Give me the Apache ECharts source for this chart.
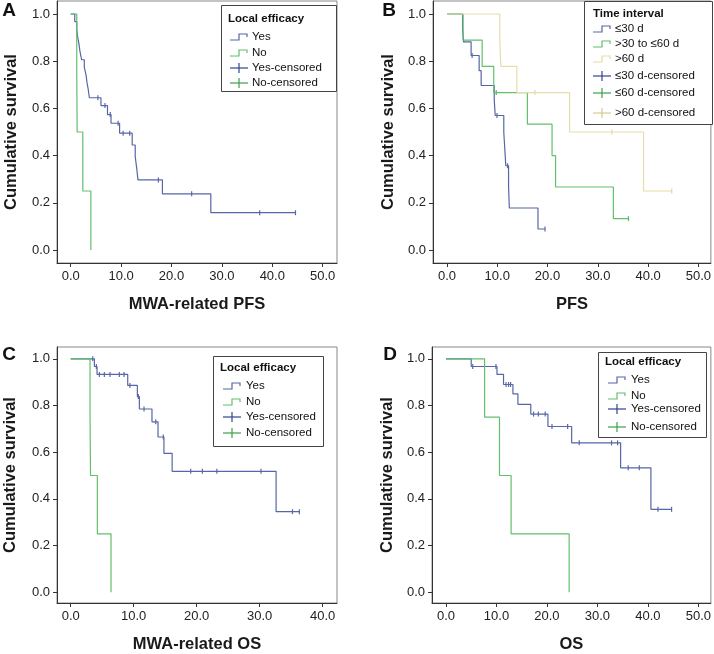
<!DOCTYPE html>
<html><head><meta charset="utf-8">
<script src="https://cdn.jsdelivr.net/npm/echarts@6/dist/echarts.min.js"></script>
<style>html,body{margin:0;padding:0;background:#fff}#c{width:714px;height:654px}</style>
</head><body><div id="c"></div>
<script>
// ---------- tick labels ----------
const xTicks50 = [0, 10, 20, 30, 40, 50];
const xTicks40 = [0, 10, 20, 30, 40];
const yTicks = [0, 0.2, 0.4, 0.6, 0.8, 1.0];

// ---------- texts ----------
const panelLetters = ['A', 'B', 'C', 'D'];
const xTitles = ['MWA-related PFS', 'PFS', 'MWA-related OS', 'OS'];
const yTitle = 'Cumulative survival';
const legendTitleLocal = 'Local efficacy';
const legendTitleTime = 'Time interval';
const legendLocal = ['Yes', 'No', 'Yes-censored', 'No-censored'];
const legendTime = ['≤30 d', '>30 to ≤60 d', '>60 d', '≤30 d-censored', '≤60 d-censored', '>60 d-censored'];

// ---------- Panel A: MWA-related PFS ----------
const aYes = [[0,1],[0.8,0.968],[1.2,0.935],[1.38,0.903],[1.65,0.871],[1.85,0.839],[2.18,0.806],[2.7,0.774],[3.04,0.742],[3.23,0.710],[3.5,0.677],[3.7,0.645],[6.0,0.612],[7.3,0.574],[8.0,0.537],[9.7,0.495],[12.2,0.445],[12.8,0.396],[13.1,0.346],[13.35,0.297],[18.2,0.238],[27.8,0.158],[44.7,0.158]];
const aYesCens = [[5.4,0.645],[6.8,0.612],[7.85,0.574],[9.4,0.537],[10.4,0.495],[11.7,0.495],[17.4,0.297],[24.0,0.238],[37.5,0.158],[44.6,0.158]];
const aNo = [[0,1],[1.2,0.75],[1.28,0.5],[2.4,0.25],[4.0,0]];

// ---------- Panel B: PFS by time interval ----------
const b30 = [[0,1],[3.1,0.941],[3.3,0.882],[4.8,0.824],[6.4,0.760],[6.8,0.697],[9.4,0.634],[9.6,0.570],[11.3,0.499],[11.5,0.428],[11.7,0.357],[12.25,0.268],[12.4,0.178],[18.1,0.089],[19.5,0.089]];
const b30Cens = [[5.0,0.824],[9.95,0.570],[12.05,0.357],[19.5,0.089]];
const b60 = [[0,1],[3.2,0.889],[7.0,0.778],[9.3,0.667],[16.0,0.533],[20.9,0.40],[21.6,0.267],[33.1,0.133],[36.1,0.133]];
const b60Cens = [[9.8,0.667],[36.1,0.133]];
const bOver60 = [[0,1],[10.5,0.889],[10.7,0.778],[13.9,0.667],[24.4,0.5],[39.1,0.25],[44.7,0.25]];
const bOver60Cens = [[17.5,0.667],[32.8,0.5],[44.7,0.25]];

// ---------- Panel C: MWA-related OS ----------
const cYes = [[0,1],[3.76,0.967],[4.18,0.933],[9.05,0.886],[10.58,0.838],[10.9,0.785],[12.9,0.73],[13.86,0.665],[14.8,0.595],[16.1,0.518],[32.6,0.345],[36.4,0.345]];
const cYesCens = [[3.5,1],[4.07,0.967],[4.55,0.933],[5.34,0.933],[6.24,0.933],[7.72,0.933],[8.47,0.933],[9.4,0.886],[10.74,0.838],[11.64,0.785],[13.5,0.73],[14.7,0.665],[19.05,0.518],[20.9,0.518],[23.2,0.518],[30.2,0.518],[35.2,0.345],[36.3,0.345]];
const cNo = [[0,1],[3.07,0.75],[3.15,0.5],[4.23,0.25],[6.4,0]];

// ---------- Panel D: OS ----------
const dYes = [[0,1],[5.0,0.967],[10.1,0.933],[11.4,0.89],[13.26,0.85],[14.25,0.805],[16.8,0.763],[20.2,0.71],[24.9,0.64],[34.6,0.533],[40.6,0.355],[44.7,0.355]];
const dYesCens = [[5.3,0.967],[9.9,0.967],[11.9,0.89],[12.4,0.89],[12.8,0.89],[17.35,0.763],[18.3,0.763],[19.66,0.763],[21.0,0.71],[24.1,0.71],[26.4,0.64],[32.8,0.64],[34.0,0.64],[36.1,0.533],[38.3,0.533],[42.0,0.355],[44.7,0.355]];
const dNo = [[0,1],[7.65,0.75],[10.6,0.5],[12.9,0.25],[24.4,0]];

// ---------- styling ----------
const FONT = 'Liberation Sans, Arial, sans-serif';
const BLUE = '#5666a6', BLUE_C = '#33438f';
const GREEN = '#62bf6c', GREEN_C = '#3c9e4a';
const TAN = '#e4ddac', TAN_C = '#d6cc92';

// layout of the 4 plot frames
const panels = [
  {left:57,  top:1,   width:280, height:262, xmin:-2.72, xmax:52.84, ymin:-0.055, ymax:1.055, ticks:xTicks50, yGap:37},
  {left:433, top:1,   width:278, height:262, xmin:-2.78, xmax:52.49, ymin:-0.055, ymax:1.055, ticks:xTicks50, yGap:36},
  {left:57,  top:347, width:280, height:260, xmin:-2.175, xmax:42.27, ymin:-0.0464, ymax:1.0506, ticks:xTicks40, yGap:38},
  {left:432, top:347, width:279, height:260, xmin:-2.772, xmax:52.48, ymin:-0.0464, ymax:1.0506, ticks:xTicks50, yGap:36}
];

const grids = [], xAxes = [], yAxes = [];
panels.forEach((p, i) => {
  grids.push({left:p.left, top:p.top, width:p.width, height:p.height, show:true, borderColor:'#888', borderWidth:1, backgroundColor:'transparent'});
  xAxes.push({
    type:'value', gridIndex:i, min:p.xmin, max:p.xmax,
    name: xTitles[i], nameLocation:'middle', nameGap:33,
    nameTextStyle:{fontFamily:FONT, fontWeight:'bold', fontSize:16.5, color:'#1a1a1a'},
    axisLine:{show:true, onZero:false, lineStyle:{color:'#333', width:1}},
    axisTick:{show:true, length:4, lineStyle:{color:'#333'}, customValues:p.ticks},
    axisLabel:{fontFamily:FONT, fontSize:13, color:'#222', margin:7, customValues:p.ticks, formatter:v => v.toFixed(1)},
    splitLine:{show:false}
  });
  yAxes.push({
    type:'value', gridIndex:i, min:p.ymin, max:p.ymax,
    name: yTitle, nameLocation:'middle', nameGap:p.yGap, nameRotate:90,
    nameTextStyle:{fontFamily:FONT, fontWeight:'bold', fontSize:16.5, color:'#1a1a1a'},
    axisLine:{show:true, onZero:false, lineStyle:{color:'#333', width:1}},
    axisTick:{show:true, length:4, lineStyle:{color:'#333'}, customValues:yTicks},
    axisLabel:{fontFamily:FONT, fontSize:13, color:'#222', margin:7, customValues:yTicks, formatter:v => v.toFixed(1)},
    splitLine:{show:false}
  });
});

function kmLine(data, idx, color) {
  return {type:'line', step:'end', data:data, xAxisIndex:idx, yAxisIndex:idx, symbol:'none', showSymbol:false,
          lineStyle:{color:color, width:1.2}, silent:true, animation:false};
}
function cens(data, idx, color) {
  return {type:'scatter', data:data, xAxisIndex:idx, yAxisIndex:idx, symbol:'rect', symbolSize:[1.2, 5],
          itemStyle:{color:color}, silent:true, animation:false};
}

const series = [
  kmLine(aYes, 0, BLUE), kmLine(aNo, 0, GREEN), cens(aYesCens, 0, BLUE_C),
  kmLine(b30, 1, BLUE), kmLine(b60, 1, GREEN), kmLine(bOver60, 1, TAN),
  cens(b30Cens, 1, BLUE_C), cens(b60Cens, 1, GREEN_C), cens(bOver60Cens, 1, TAN_C),
  kmLine(cYes, 2, BLUE), kmLine(cNo, 2, GREEN), cens(cYesCens, 2, BLUE_C),
  kmLine(dYes, 3, BLUE), kmLine(dNo, 3, GREEN), cens(dYesCens, 3, BLUE_C)
];

// ---------- legends & letters (graphic) ----------
function txt(x, y, text, size, bold, align) {
  return {type:'text', x:x, y:y, z:110, style:{text:text, fill:'#111', fontFamily:FONT, fontSize:size,
          fontWeight: bold ? 'bold' : 'normal', textAlign: align || 'left', textVerticalAlign:'middle',
          align: align || 'left', verticalAlign:'middle'}};
}
function stepIcon(x, y, color) {
  return {type:'polyline', z:110, shape:{points:[[x, y+3],[x+9, y+3],[x+9, y-3],[x+17, y-3],[x+17, y]]},
          style:{stroke:color, lineWidth:1.2, fill:null}};
}
function censIcon(x, y, color) {
  return [
    {type:'line', z:110, shape:{x1:x, y1:y, x2:x+18, y2:y}, style:{stroke:color, lineWidth:1.2}},
    {type:'line', z:110, shape:{x1:x+9, y1:y-5, x2:x+9, y2:y+5}, style:{stroke:color, lineWidth:1.2}}
  ];
}
function legend(box, title, titlePos, labels, ys, symX, textX, kinds) {
  const els = [{type:'rect', z:105, shape:{x:box[0]+0.5, y:box[1]+0.5, width:box[2]-box[0], height:box[3]-box[1]},
                style:{stroke:'#444', fill:'#fff', lineWidth:1}}];
  els.push(txt(titlePos[0], titlePos[1], title, 11.5, true));
  labels.forEach((lab, k) => {
    const kd = kinds[k];
    if (kd[0] === 'step') els.push(stepIcon(symX, ys[k], kd[1]));
    else censIcon(symX, ys[k], kd[1]).forEach(e => els.push(e));
    els.push(txt(textX, ys[k], lab, 11.5, false));
  });
  return els;
}
const kindsLocal = [['step', BLUE], ['step', GREEN], ['cens', BLUE_C], ['cens', GREEN_C]];
const kindsTime = [['step', BLUE], ['step', GREEN], ['step', TAN], ['cens', BLUE_C], ['cens', GREEN_C], ['cens', TAN_C]];

let graphics = [];
graphics = graphics.concat(legend([221,5,336,91], legendTitleLocal, [228,19], legendLocal, [37,53,68,83], 230, 252, kindsLocal));
graphics = graphics.concat(legend([584,1,712,124], legendTitleTime, [593,14], legendTime, [29,44,59,76,93,113], 593, 615, kindsTime));
graphics = graphics.concat(legend([213,356,323,446], legendTitleLocal, [220,368], legendLocal, [386,402,417,433], 223, 246, kindsLocal));
graphics = graphics.concat(legend([598,352,706,437], legendTitleLocal, [605,362], legendLocal, [380,396,409,427], 608, 631, kindsLocal));
const letterPos = [[9,11],[389,11],[9,355],[390,355]];
panelLetters.forEach((L, i) => graphics.push(txt(letterPos[i][0], letterPos[i][1], L, 19, true, 'center')));

const chart = echarts.init(document.getElementById('c'), null, {renderer:'canvas'});
chart.setOption({
  backgroundColor:'#fff', animation:false,
  grid:grids, xAxis:xAxes, yAxis:yAxes, series:series, graphic:graphics
});
</script></body></html>
